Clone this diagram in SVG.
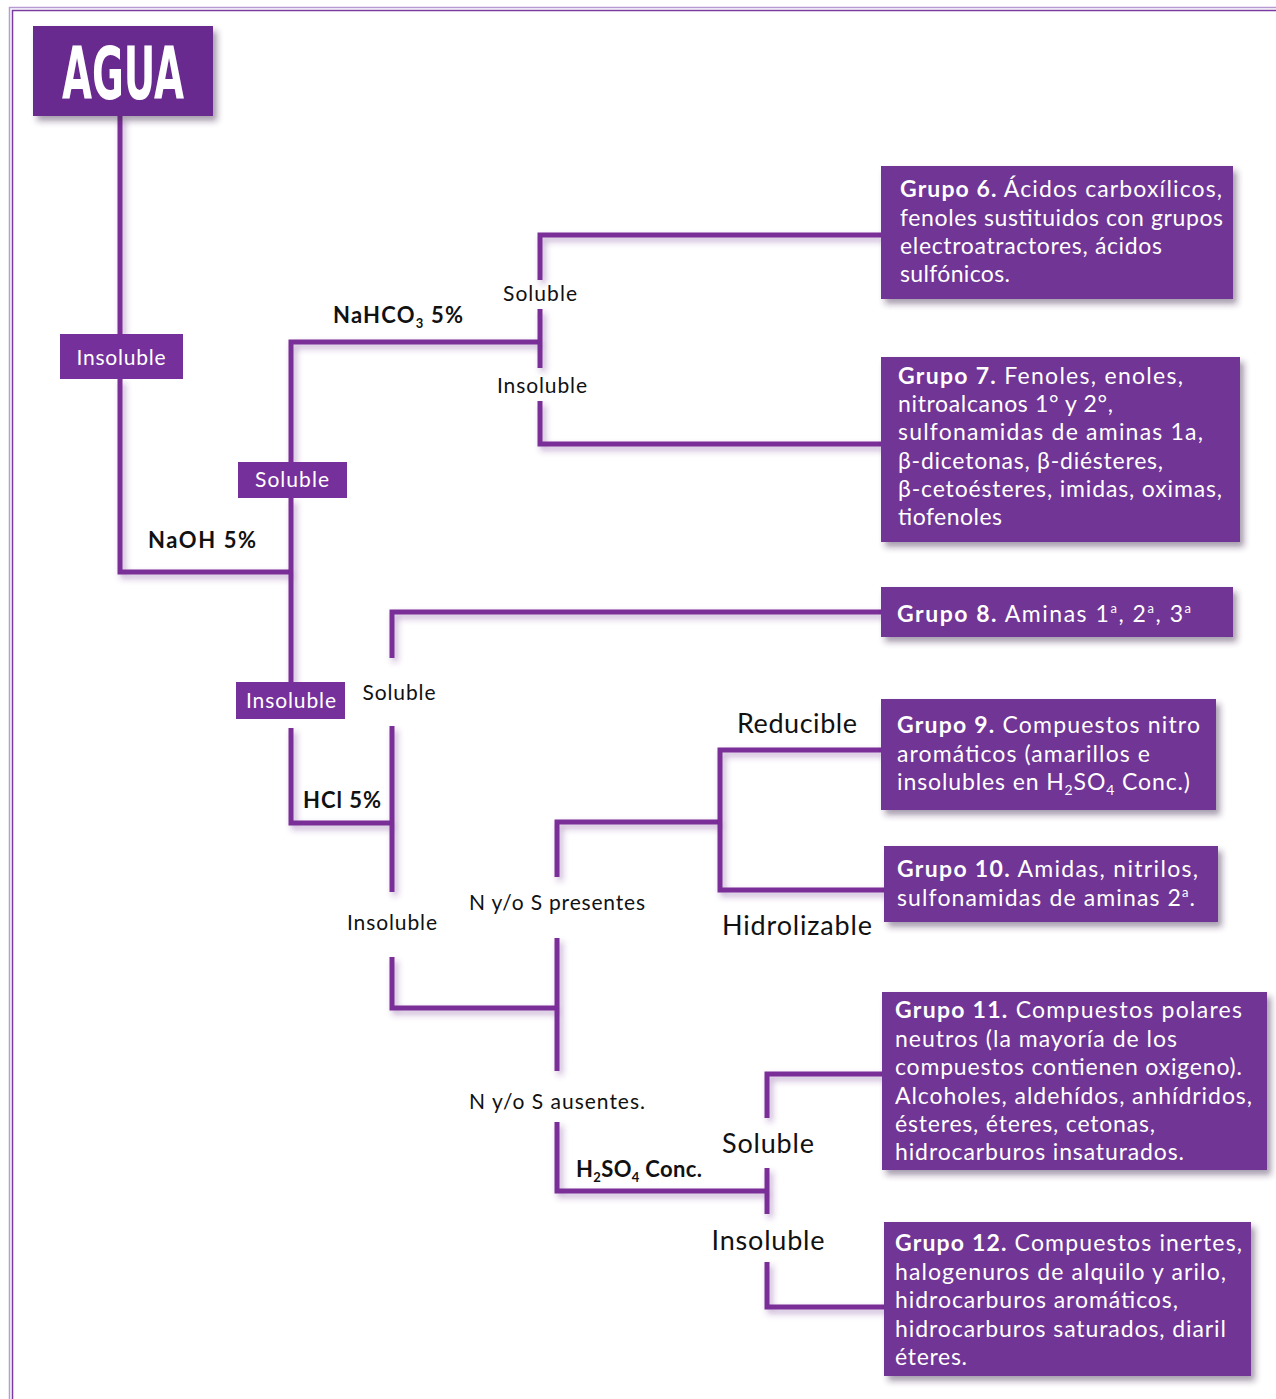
<svg xmlns="http://www.w3.org/2000/svg" width="1276" height="1399" viewBox="0 0 1276 1399">
<defs>
<filter id="bshadow" x="-10%" y="-10%" width="130%" height="140%">
<feDropShadow dx="4" dy="5" stdDeviation="3" flood-color="#3a2048" flood-opacity="0.45"/>
</filter>
<filter id="lshadow" x="-5%" y="-5%" width="115%" height="115%">
<feDropShadow dx="3" dy="4" stdDeviation="3" flood-color="#6a2d8c" flood-opacity="0.4"/>
</filter>
</defs>
<style>
.box{fill:#6f3595;filter:url(#bshadow);}
.lbl{fill:#76309b;}
.conn path{fill:none;stroke:#7a2d98;stroke-width:5;stroke-linejoin:miter;stroke-linecap:butt;}
.t{font-family:"Lato","Noto Sans",sans-serif;}
.w{fill:#ffffff;font-size:23px;}
.s{fill:#ffffff;font-size:21px;text-anchor:middle;}
.k{fill:#111111;font-size:21px;text-anchor:middle;}
.kb{fill:#111111;font-size:22px;font-weight:700;}
.big{fill:#111111;font-size:27px;text-anchor:middle;}
.b{font-weight:700;}
.sup{font-size:13px;}
</style>
<rect x="0" y="0" width="1276" height="1399" fill="#ffffff"/>
<g id="frame">
<path d="M9.5 1399 V7.5 H1276" fill="none" stroke="#b89ad3" stroke-width="1.5"/>
<path d="M12.5 1399 V10.5 H1276" fill="none" stroke="#7b3aa0" stroke-width="1.5"/>
</g>

<g class="conn" id="connectors" filter="url(#lshadow)">
<path d="M120 116 V334"/>
<path d="M120 379 V572 H291"/>
<path d="M291 462 V342 H540"/>
<path d="M291 498 V682"/>
<path d="M540 280 V235 H881"/>
<path d="M540 309 V368"/>
<path d="M540 401 V444 H881"/>
<path d="M291 728 V823 H392"/>
<path d="M392 658 V612 H881"/>
<path d="M392 726 V892"/>
<path d="M392 957 V1008 H557"/>
<path d="M557 877 V822 H720"/>
<path d="M720 823 V750 H881"/>
<path d="M720 823 V890 H884"/>
<path d="M557 938 V1071"/>
<path d="M557 1122 V1191 H767"/>
<path d="M767 1118 V1074 H882"/>
<path d="M767 1168 V1214"/>
<path d="M767 1262 V1307 H884"/>
</g>

<g id="agua">
<rect x="33" y="26" width="180" height="90" fill="#692b8f" filter="url(#bshadow)"/>
<text x="62" y="99" textLength="122" lengthAdjust="spacingAndGlyphs" style="font-family:'DejaVu Sans Condensed','Liberation Sans',sans-serif;font-weight:700;font-size:73px;fill:#ffffff">AGUA</text>
</g>

<g id="insoluble1">
<rect class="lbl" x="60" y="334" width="123" height="45"/>
<text class="t s" x="121" y="365" textLength="89" lengthAdjust="spacing">Insoluble</text>
</g>

<g id="soluble1">
<rect class="lbl" x="238" y="462" width="109" height="36"/>
<text class="t s" x="292" y="487" textLength="74" lengthAdjust="spacing">Soluble</text>
</g>

<g id="insoluble2">
<rect class="lbl" x="236" y="682" width="109" height="37"/>
<text class="t s" x="291" y="708" textLength="90" lengthAdjust="spacing">Insoluble</text>
</g>

<g id="labels">
<text class="t kb" x="148" y="548" textLength="108" lengthAdjust="spacing">NaOH 5%</text>
<text class="t kb" x="333" y="323" textLength="130" lengthAdjust="spacing">NaHCO<tspan font-size="13" dy="5">3</tspan><tspan dy="-5"> 5%</tspan></text>
<text class="t k" x="540" y="301" textLength="74" lengthAdjust="spacing">Soluble</text>
<text class="t k" x="542" y="393" textLength="90" lengthAdjust="spacing">Insoluble</text>
<text class="t kb" x="303" y="808" textLength="78" lengthAdjust="spacing">HCl 5%</text>
<text class="t k" x="399" y="700" textLength="73" lengthAdjust="spacing">Soluble</text>
<text class="t k" x="392" y="930" textLength="90" lengthAdjust="spacing">Insoluble</text>
<text class="t k" x="557" y="910" textLength="176" lengthAdjust="spacing">N y/o S presentes</text>
<text class="t k" x="557" y="1109" textLength="176" lengthAdjust="spacing">N y/o S ausentes.</text>
<text class="t kb" x="576" y="1177" textLength="126" lengthAdjust="spacing">H<tspan font-size="13" dy="5">2</tspan><tspan dy="-5">SO</tspan><tspan font-size="13" dy="5">4</tspan><tspan dy="-5"> Conc.</tspan></text>
<text class="t big" x="797" y="733" textLength="120" lengthAdjust="spacing">Reducible</text>
<text class="t big" x="797" y="935" textLength="150" lengthAdjust="spacing">Hidrolizable</text>
<text class="t big" x="768" y="1153" textLength="92" lengthAdjust="spacing">Soluble</text>
<text class="t big" x="768" y="1250" textLength="113" lengthAdjust="spacing">Insoluble</text>
</g>

<g id="grupo6">
<rect class="box" x="881" y="166" width="352" height="133"/>
<text class="t w" x="900" y="197" textLength="322" lengthAdjust="spacing"><tspan class="b">Grupo 6.</tspan> Ácidos carboxílicos,</text>
<text class="t w" x="900" y="226" textLength="323" lengthAdjust="spacing">fenoles sustituidos con grupos</text>
<text class="t w" x="900" y="254" textLength="262" lengthAdjust="spacing">electroatractores, ácidos</text>
<text class="t w" x="900" y="282" textLength="110" lengthAdjust="spacing">sulfónicos.</text>
</g>

<g id="grupo7">
<rect class="box" x="881" y="357" width="359" height="185"/>
<text class="t w" x="898" y="384" textLength="285" lengthAdjust="spacing"><tspan class="b">Grupo 7.</tspan> Fenoles, enoles,</text>
<text class="t w" x="898" y="412" textLength="215" lengthAdjust="spacing">nitroalcanos 1° y 2°,</text>
<text class="t w" x="898" y="440" textLength="305" lengthAdjust="spacing">sulfonamidas de aminas 1a,</text>
<text class="t w" x="898" y="469" textLength="265" lengthAdjust="spacing">β-dicetonas, β-diésteres,</text>
<text class="t w" x="898" y="497" textLength="324" lengthAdjust="spacing">β-cetoésteres, imidas, oximas,</text>
<text class="t w" x="898" y="525" textLength="104" lengthAdjust="spacing">tiofenoles</text>
</g>

<g id="grupo8">
<rect class="box" x="881" y="587" width="352" height="50"/>
<text class="t w" x="897" y="622" textLength="294" lengthAdjust="spacing"><tspan class="b">Grupo 8.</tspan> Aminas 1<tspan class="sup" dy="-9">a</tspan><tspan dy="9">, 2</tspan><tspan class="sup" dy="-9">a</tspan><tspan dy="9">, 3</tspan><tspan class="sup" dy="-9">a</tspan></text>
</g>

<g id="grupo9">
<rect class="box" x="881" y="699" width="335" height="111"/>
<text class="t w" x="897" y="733" textLength="303" lengthAdjust="spacing"><tspan class="b">Grupo 9.</tspan> Compuestos nitro</text>
<text class="t w" x="897" y="762" textLength="253" lengthAdjust="spacing">aromáticos (amarillos e</text>
<text class="t w" x="897" y="790" textLength="293" lengthAdjust="spacing">insolubles en H<tspan font-size="14" dy="5">2</tspan><tspan dy="-5">SO</tspan><tspan font-size="14" dy="5">4</tspan><tspan dy="-5"> Conc.)</tspan></text>
</g>

<g id="grupo10">
<rect class="box" x="884" y="846" width="334" height="76"/>
<text class="t w" x="897" y="877" textLength="301" lengthAdjust="spacing"><tspan class="b">Grupo 10.</tspan> Amidas, nitrilos,</text>
<text class="t w" x="897" y="906" textLength="298" lengthAdjust="spacing">sulfonamidas de aminas 2<tspan class="sup" dy="-9">a</tspan><tspan dy="9">.</tspan></text>
</g>

<g id="grupo11">
<rect class="box" x="882" y="992" width="385" height="178"/>
<text class="t w" x="895" y="1018" textLength="347" lengthAdjust="spacing"><tspan class="b">Grupo 11.</tspan> Compuestos polares</text>
<text class="t w" x="895" y="1047" textLength="282" lengthAdjust="spacing">neutros (la mayoría de los</text>
<text class="t w" x="895" y="1075" textLength="347" lengthAdjust="spacing">compuestos contienen oxigeno).</text>
<text class="t w" x="895" y="1104" textLength="357" lengthAdjust="spacing">Alcoholes, aldehídos, anhídridos,</text>
<text class="t w" x="895" y="1132" textLength="260" lengthAdjust="spacing">ésteres, éteres, cetonas,</text>
<text class="t w" x="895" y="1160" textLength="289" lengthAdjust="spacing">hidrocarburos insaturados.</text>
</g>

<g id="grupo12">
<rect class="box" x="884" y="1222" width="367" height="154"/>
<text class="t w" x="895" y="1251" textLength="347" lengthAdjust="spacing"><tspan class="b">Grupo 12.</tspan> Compuestos inertes,</text>
<text class="t w" x="895" y="1280" textLength="331" lengthAdjust="spacing">halogenuros de alquilo y arilo,</text>
<text class="t w" x="895" y="1308" textLength="283" lengthAdjust="spacing">hidrocarburos aromáticos,</text>
<text class="t w" x="895" y="1337" textLength="331" lengthAdjust="spacing">hidrocarburos saturados, diaril</text>
<text class="t w" x="895" y="1365" textLength="72" lengthAdjust="spacing">éteres.</text>
</g>
</svg>
